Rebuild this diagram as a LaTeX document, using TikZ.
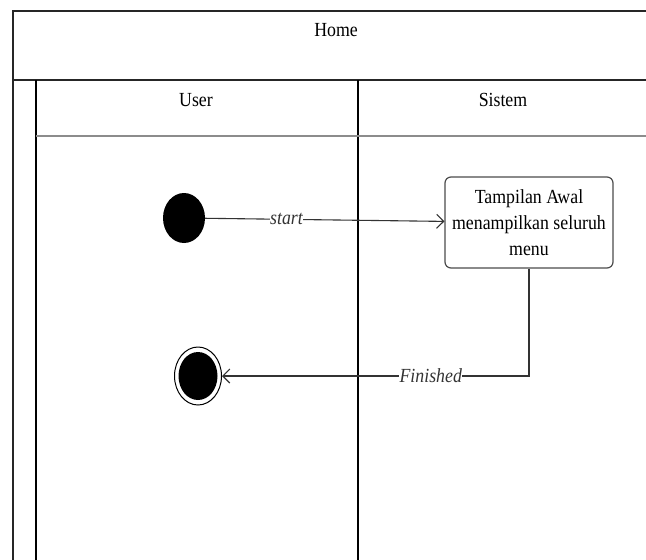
\documentclass[tikz,border=0pt]{standalone}
\usepackage{fontspec}
\setmainfont{Liberation Serif}[FakeStretch=0.89]
\usetikzlibrary{arrows.meta,shapes.geometric}
\begin{document}
\begin{tikzpicture}[x=1pt,y=-1pt,
  frameline/.style={line width=2.4pt,black!85},
  laneline/.style={line width=1.2pt,black},
  headline/.style={line width=2.2pt,black!45},
  lbl/.style={font=\fontsize{20}{23}\selectfont},
  edgelbl/.style={font=\fontsize{20}{23}\selectfont\itshape,fill=white,inner sep=0.5pt},
  activity/.style={draw=black!70,line width=1.2pt,rounded corners=6pt,align=center,
    minimum width=168pt,minimum height=91pt,inner sep=2pt,
    font=\fontsize{20}{26}\selectfont},
  flow/.style={line width=1.1pt,black!80,-{Straight Barb[length=7pt,width=14pt,line width=1.1pt]}}]
\useasboundingbox (0,0) rectangle (646,560);
\clip (0,0) rectangle (646,560);
\fill[white] (0,0) rectangle (646,560);
% swimlane frame
\draw[frameline] (13,560) -- (13,11) -- (646,11);
\draw[frameline] (13,80) -- (646,80);
\draw[laneline] (36,80) -- (36,560);
\draw[laneline] (358,80) -- (358,560);
\draw[headline] (36,136) -- (646,136);
% titles
\node[lbl] (title) at (336,30) {Home};
\node[lbl] (user) at (196,100) {User};
\node[lbl] (sistem) at (503,100) {Sistem};
% start and end states
\node[ellipse,fill=black,minimum width=42pt,minimum height=50pt,inner sep=0pt] (start) at (184,218) {};
\node[ellipse,draw=black,line width=1pt,minimum width=47pt,minimum height=58pt,inner sep=0pt] (end) at (198,376) {};
\node[ellipse,fill=black,minimum width=39pt,minimum height=48pt,inner sep=0pt] (endcore) at (198,376) {};
% activity
\node[activity] (awal) at (529,222.5) {Tampilan Awal\\menampilkan seluruh\\menu};
% transitions
\draw[flow] (start) -- node[edgelbl,pos=0.34] {start} (awal);
\draw[flow] (awal.south) |- node[edgelbl,pos=0.66] {Finished} (end);
\end{tikzpicture}
\end{document}
